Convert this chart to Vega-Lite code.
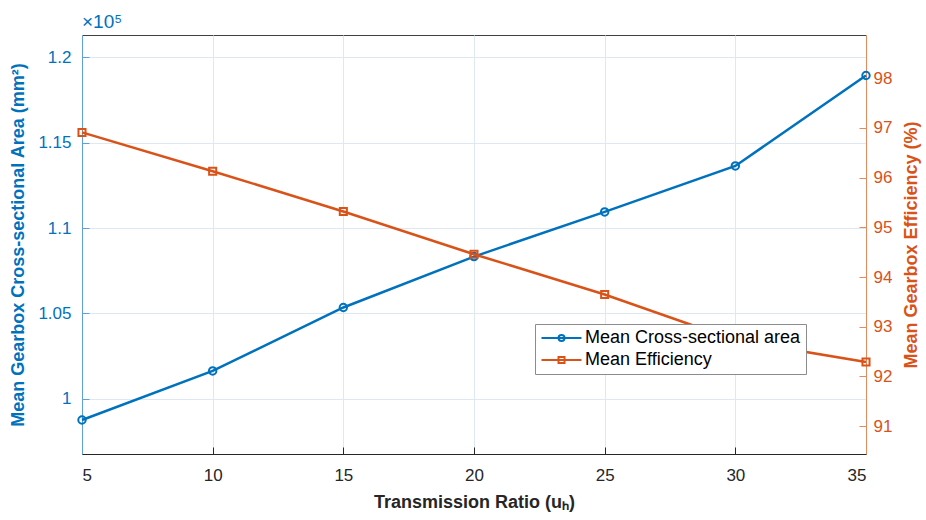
{
  "$schema": "https://vega.github.io/schema/vega-lite/v6.json",
  "width": 784,
  "height": 419,
  "autosize": {"type": "none"},
  "padding": {"left": 82, "top": 35, "right": 60, "bottom": 66},
  "title": {"text": "×10⁵", "anchor": "start", "frame": "group", "fontSize": 19, "fontWeight": "normal", "color": "#0072BD", "font": "Liberation Sans", "offset": 3},
  "data": {
    "values": [
      {"u": 5, "series": "Mean Cross-sectional area", "value": 98770},
      {"u": 10, "series": "Mean Cross-sectional area", "value": 101640},
      {"u": 15, "series": "Mean Cross-sectional area", "value": 105350},
      {"u": 20, "series": "Mean Cross-sectional area", "value": 108330},
      {"u": 25, "series": "Mean Cross-sectional area", "value": 110940},
      {"u": 30, "series": "Mean Cross-sectional area", "value": 113630},
      {"u": 35, "series": "Mean Cross-sectional area", "value": 118920},
      {"u": 5, "series": "Mean Efficiency", "value": 96.91},
      {"u": 10, "series": "Mean Efficiency", "value": 96.13},
      {"u": 15, "series": "Mean Efficiency", "value": 95.32},
      {"u": 20, "series": "Mean Efficiency", "value": 94.46},
      {"u": 25, "series": "Mean Efficiency", "value": 93.65},
      {"u": 30, "series": "Mean Efficiency", "value": 92.73},
      {"u": 35, "series": "Mean Efficiency", "value": 92.29}
    ]
  },
  "encoding": {
    "x": {
      "field": "u", "type": "quantitative",
      "scale": {"domain": [5, 35], "nice": false, "zero": false},
      "axis": {"values": [5, 10, 15, 20, 25, 30, 35], "title": "Transmission Ratio (uₕ)", "grid": true, "labelPadding": 20, "titlePadding": 10}
    },
    "color": {
      "field": "series", "type": "nominal",
      "scale": {"domain": ["Mean Cross-sectional area", "Mean Efficiency"], "range": ["#0072BD", "#D95319"]},
      "legend": {"title": null}
    }
  },
  "layer": [
    {
      "encoding": {
        "y": {
          "field": "value", "type": "quantitative",
          "scale": {"domain": [96780, 121290], "nice": false, "zero": false},
          "axis": {
            "orient": "left", "values": [100000, 105000, 110000, 115000, 120000],
            "labelExpr": "format(datum.value / 100000, '.3~f')",
            "title": "Mean Gearbox Cross-sectional Area (mm²)",
            "labelColor": "#0072BD", "titleColor": "#0072BD", "domainColor": "#5fa0d8", "tickColor": "#5fa0d8",
            "grid": true, "labelPadding": 18, "titlePadding": 10
          }
        }
      },
      "layer": [
        {
          "transform": [{"filter": "datum.series == 'Mean Cross-sectional area'"}],
          "mark": {"type": "line", "strokeWidth": 2.5}
        },
        {
          "transform": [{"filter": "datum.series == 'Mean Cross-sectional area'"}],
          "mark": {"type": "point", "shape": "circle", "filled": false, "size": 55, "strokeWidth": 2, "opacity": 1}
        },
        {
          "transform": [{"filter": "datum.u > 1000"}],
          "mark": {"type": "point", "filled": false, "strokeWidth": 2, "opacity": 1},
          "encoding": {
            "shape": {
              "field": "series", "type": "nominal",
              "scale": {
                "domain": ["Mean Cross-sectional area", "Mean Efficiency"],
                "range": [
                  "M-1,0H4.33M2.07,0A0.4,0.4,0,1,1,1.27,0A0.4,0.4,0,1,1,2.07,0Z",
                  "M-1,0H4.33M1.27,-0.4H2.07V0.4H1.27Z"
                ]
              },
              "legend": {"title": null}
            }
          }
        }
      ]
    },
    {
      "encoding": {
        "y": {
          "field": "value", "type": "quantitative",
          "scale": {"domain": [90.44, 98.87], "nice": false, "zero": false},
          "axis": {
            "orient": "right", "values": [91, 92, 93, 94, 95, 96, 97, 98],
            "title": "Mean Gearbox Efficiency (%)", "titleAngle": -90, "titleBaseline": "top",
            "labelColor": "#D95319", "titleColor": "#D95319", "domainColor": "#e48a5e", "tickColor": "#e48a5e",
            "grid": false, "labelPadding": 14, "titlePadding": 11
          }
        }
      },
      "layer": [
        {
          "transform": [{"filter": "datum.series == 'Mean Efficiency'"}],
          "mark": {"type": "line", "strokeWidth": 2.5}
        },
        {
          "transform": [{"filter": "datum.series == 'Mean Efficiency'"}],
          "mark": {"type": "point", "shape": "square", "filled": false, "size": 50, "strokeWidth": 2, "opacity": 1}
        }
      ]
    }
  ],
  "resolve": {"scale": {"y": "independent"}},
  "config": {
    "font": "Liberation Sans",
    "background": "white",
    "view": {"stroke": "#404040", "strokeWidth": 1},
    "axis": {
      "labelFont": "Liberation Sans", "titleFont": "Liberation Sans",
      "labelFontSize": 17, "titleFontSize": 18, "titleFontWeight": "bold",
      "labelColor": "#262626", "titleColor": "#262626",
      "domainColor": "#262626", "tickColor": "#262626",
      "tickSize": -7, "gridColor": "#dde8f2", "gridWidth": 1
    },
    "legend": {
      "orient": "none", "legendX": 453, "legendY": 289,
      "fillColor": "white", "strokeColor": "#8c8c8c", "padding": 5,
      "labelFont": "Liberation Sans", "labelFontSize": 18, "labelColor": "#000000", "labelLimit": 400,
      "symbolSize": 225, "symbolStrokeWidth": 2, "symbolOpacity": 1,
      "labelOffset": 27, "rowPadding": 4
    }
  }
}
